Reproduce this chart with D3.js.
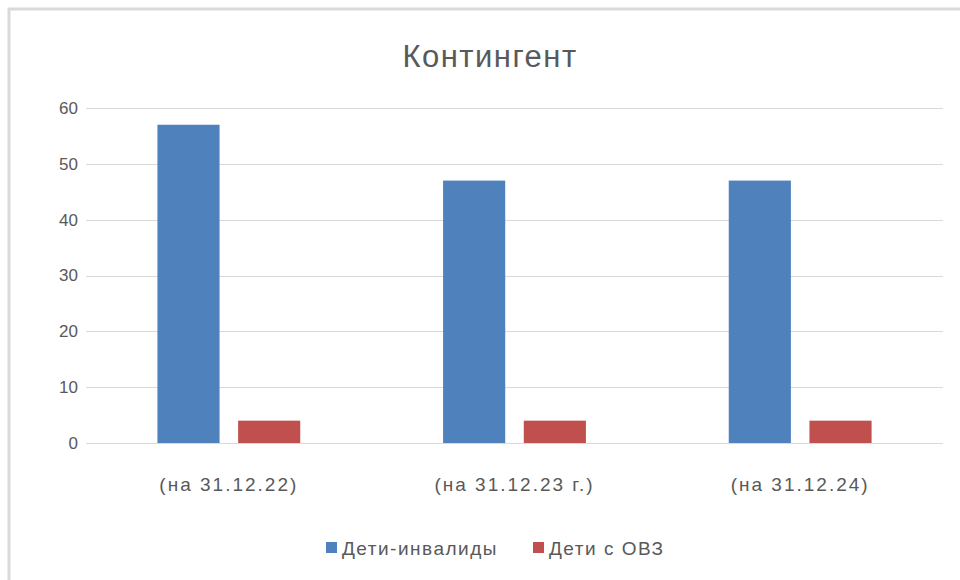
<!DOCTYPE html>
<html>
<head>
<meta charset="utf-8">
<script src="https://cdn.jsdelivr.net/npm/d3@7"></script>
<style>
  body { margin: 0; background: #fff; }
  svg text { font-family: "Liberation Sans", Arial, sans-serif; fill: #595959; }
</style>
</head>
<body>
<script>
var categories = ["(на 31.12.22)", "(на 31.12.23 г.)", "(на 31.12.24)"]
var series = ["Дети-инвалиды", "Дети с ОВЗ"]
var invalidValues = [57, 47, 47]
var ovzValues = [4, 4, 4]
var yTicks = [0, 10, 20, 30, 40, 50, 60]
var colors = ["#4F81BD", "#C0504D"]

var width = 960, height = 580
var margin = {top: 108, right: 17, bottom: 137, left: 86}

var svg = d3.select("body").append("svg")
    .attr("width", width)
    .attr("height", height)

// chart border
svg.append("path")
    .attr("d", "M9,580 V9 H960")
    .attr("fill", "none")
    .attr("stroke", "#d9d9d9")
    .attr("stroke-width", 3)

svg.append("text")
    .attr("x", 490)
    .attr("y", 67)
    .attr("text-anchor", "middle")
    .style("font-size", "31px")
    .style("letter-spacing", "1.5px")
    .text("Контингент")

var x0 = d3.scaleBand()
    .domain(categories)
    .range([margin.left, width - margin.right])

var x1 = d3.scaleBand()
    .domain(series)
    .range([x0.bandwidth() * 0.25, x0.bandwidth() * 0.75])
    .paddingInner(0.23)

var y = d3.scaleLinear()
    .domain([0, 60])
    .range([height - margin.bottom, margin.top])

var grid = svg.append("g")
grid.selectAll("line")
    .data(yTicks)
    .enter().append("line")
    .attr("x1", margin.left)
    .attr("x2", width - margin.right)
    .attr("y1", function(d) { return Math.round(y(d)) + 0.5 })
    .attr("y2", function(d) { return Math.round(y(d)) + 0.5 })
    .attr("stroke", "#d9d9d9")
    .attr("stroke-width", 1)

grid.selectAll("text")
    .data(yTicks)
    .enter().append("text")
    .attr("x", 78)
    .attr("y", function(d) { return y(d) })
    .attr("dy", "0.35em")
    .attr("text-anchor", "end")
    .style("font-size", "17px")
    .text(function(d) { return d })

var rows = categories.map(function(c, i) {
    return {cat: c, vals: [invalidValues[i], ovzValues[i]]}
})

var groups = svg.selectAll("g.cat")
    .data(rows)
    .enter().append("g")
    .attr("class", "cat")
    .attr("transform", function(d) { return "translate(" + x0(d.cat) + ",0)" })

groups.selectAll("rect")
    .data(function(d) { return d.vals.map(function(v, j) { return {s: series[j], v: v, j: j} }) })
    .enter().append("rect")
    .attr("x", function(d) { return x1(d.s) })
    .attr("width", x1.bandwidth())
    .attr("y", function(d) { return y(d.v) })
    .attr("height", function(d) { return y(0) - y(d.v) })
    .attr("fill", function(d) { return colors[d.j] })

groups.append("text")
    .attr("x", x0.bandwidth() / 2)
    .attr("y", 484)
    .attr("dy", "0.35em")
    .attr("text-anchor", "middle")
    .style("font-size", "19px")
    .style("letter-spacing", "2px")
    .text(function(d) { return d.cat })

// legend
var legendX = [326, 533]
var legend = svg.selectAll("g.legend")
    .data(series)
    .enter().append("g")
    .attr("class", "legend")
    .attr("transform", function(d, i) { return "translate(" + legendX[i] + ",548)" })

legend.append("rect")
    .attr("x", 0)
    .attr("y", -6)
    .attr("width", 11)
    .attr("height", 11)
    .attr("fill", function(d, i) { return colors[i] })

legend.append("text")
    .attr("x", 16)
    .attr("y", 0)
    .attr("dy", "0.35em")
    .style("font-size", "19px")
    .style("letter-spacing", "1.5px")
    .text(function(d) { return d })
</script>
</body>
</html>
